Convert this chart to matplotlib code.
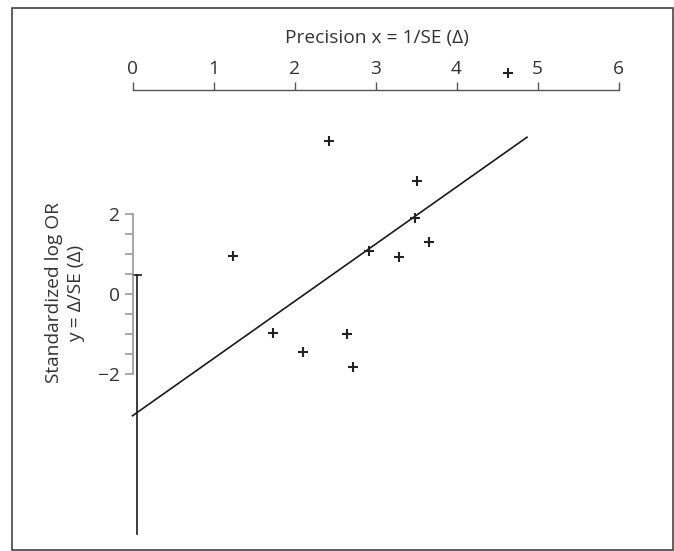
import matplotlib.pyplot as plt
from matplotlib.patches import Rectangle

# Galbraith / Egger plot: precision vs standardized log OR
precision = [1.244, 2.430, 3.516, 3.488, 2.921, 3.294, 3.664, 1.731, 2.644, 2.109, 2.719, 4.640]
std_log_or = [0.945, 3.80, 2.81, 1.89, 1.07, 0.92, 1.285, -0.963, -0.995, -1.435, -1.82, 5.50]

# regression line
intercept = -3.03
slope = 1.423
line_x = [0.0, 4.87]

# confidence interval of the intercept
ci_x = 0.06
ci_low = -5.97
ci_high = 0.47

xticks = [0, 1, 2, 3, 4, 5, 6]
yticks = [-2, 0, 2]
yminor = [-1.5, -1, -0.5, 0.5, 1, 1.5]


def main():
    plt.rcParams['font.family'] = ['Open Sans', 'DejaVu Sans']
    W, H = 674, 551
    fig = plt.figure(figsize=(W / 100, H / 100), dpi=100)

    left, right = 132.5, 618.5
    top, bottom = 90.0, 543.2
    ax = fig.add_axes([left / W, 1 - bottom / H, (right - left) / W, (bottom - top) / H])
    ax.set_xlim(0, 6)
    ax.set_ylim(-6.2, 5.075)

    # outer frame
    fig.patches.append(Rectangle((11.7 / W, 1 - 550 / H), (672.7 - 11.7) / W, (550 - 8) / H,
                                 transform=fig.transFigure, fill=False,
                                 edgecolor='#444444', linewidth=1.2))

    ax.plot(precision, std_log_or, linestyle='none', marker='+', markersize=7,
            markeredgewidth=1.5, color='#222222', clip_on=False, zorder=3)

    ly = [intercept + slope * x for x in line_x]
    ax.plot(line_x, ly, color='#1a1a1a', linewidth=1.2, clip_on=False)

    ax.plot([ci_x, ci_x], [ci_low, ci_high], color='#1a1a1a', linewidth=1.2, clip_on=False)
    ax.plot([ci_x], [ci_high], marker='_', markersize=7, markeredgewidth=1.2,
            color='#1a1a1a', clip_on=False)

    for s in ['right', 'bottom']:
        ax.spines[s].set_visible(False)
    ax.spines['top'].set_color('#555555')
    ax.spines['top'].set_linewidth(1.0)
    ax.spines['left'].set_color('#999999')
    ax.spines['left'].set_linewidth(1.2)
    ax.spines['left'].set_bounds(-2, 2)

    fs = 13.8
    ax.xaxis.tick_top()
    ax.set_xticks(xticks)
    ax.tick_params(axis='x', direction='out', length=6, width=1.0, color='#555555',
                   labelsize=fs, labelcolor='#333333', pad=3)
    ax.set_yticks(yticks)
    ax.set_yticklabels(['\u22122', '0', '2'])
    ax.set_yticks(yminor, minor=True)
    ax.tick_params(axis='y', which='both', direction='out', length=6, width=1.2,
                   color='#999999', labelsize=fs, labelcolor='#333333', pad=3)

    fig.text(377 / W, 1 - 38 / H, 'Precision x = 1/SE (\u0394)', ha='center', va='center',
             fontsize=fs, color='#333333')
    fig.text(65 / W, 1 - 293 / H, 'Standardized log OR\ny = \u0394/SE (\u0394)', ha='center',
             va='center', rotation=90, multialignment='center', fontsize=fs,
             color='#333333', linespacing=1.25)

    fig.savefig('out.png', dpi=100)


if __name__ == "__main__":
    main()
